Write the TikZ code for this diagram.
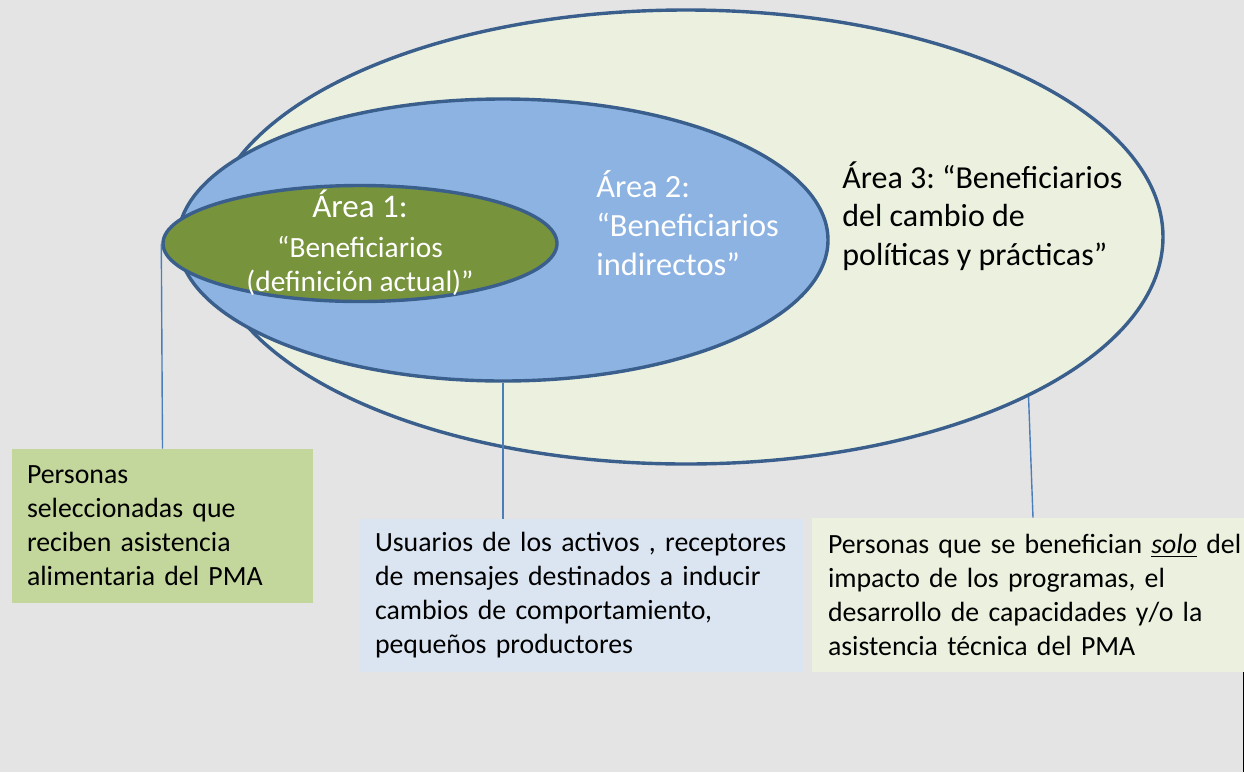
\documentclass[tikz,border=0pt]{standalone}
\usepackage{fontspec}
\setmainfont{Carlito}
\usetikzlibrary{shapes.geometric}

\definecolor{fondo}{HTML}{E4E4E4}
\definecolor{borde}{HTML}{3A5F8C}
\definecolor{crema}{HTML}{EBF1DE}
\definecolor{celeste}{HTML}{8DB3E2}
\definecolor{oliva}{HTML}{77933C}
\definecolor{verdeclaro}{HTML}{C3D69B}
\definecolor{azulclaro}{HTML}{DBE5F1}
\definecolor{linea}{HTML}{4A7EBB}

\tikzset{
    zona/.style={ellipse, draw=borde, line width=1.7pt, inner sep=0pt},
    rotulo/.style={inner sep=0pt},
    nota/.style={rectangle, inner xsep=7.5pt, inner ysep=0pt, align=left,
        font=\fontsize{13.9}{17}\selectfont},
    enlace/.style={draw=linea, line width=0.7pt}
}

\begin{document}
\frenchspacing
\begin{tikzpicture}[x=0.5pt, y=-0.5pt]
    \fill[fondo] (0, 0) rectangle (1244, 772);

    % las tres areas
    \node[zona, fill=crema, minimum width=477pt, minimum height=227pt] (area3) at (686, 237) {};
    \node[zona, fill=celeste, minimum width=325pt, minimum height=141pt] (area2) at (503, 240) {};
    \node[zona, fill=oliva, minimum width=197pt, minimum height=58pt] (area1) at (360, 243.5) {};

    \node[rotulo, anchor=base, align=center, text=white, font=\fontsize{14.7}{17}\selectfont] (txt1) at (360, 291)
        {{\fontsize{16.5}{17}\selectfont Área 1:}\\[3pt]“Beneficiarios\\(definición actual)”};
    \node[rotulo, anchor=base west, align=left, text=white, font=\fontsize{16.2}{19.5}\selectfont] (txt2) at (596, 275)
        {Área 2:\\“Beneficiarios\\indirectos”};
    \node[rotulo, anchor=base west, align=left, font=\fontsize{16}{19.25}\selectfont] (txt3) at (842, 265)
        {Área 3: “Beneficiarios\\del cambio de\\políticas y prácticas”};

    % cajas de descripcion
    \node[nota, fill=verdeclaro, text width=135.5pt, minimum height=77pt] (pers1) at (162.5, 526)
        {Personas\\seleccionadas que\\reciben asistencia\\alimentaria del PMA};
    \node[nota, fill=azulclaro, text width=206.5pt, minimum height=76.5pt] (usu2) at (581.5, 595.5)
        {\mbox{Usuarios de los activos , receptores}\\de mensajes destinados a inducir\\cambios de comportamiento,\\pequeños productores};
    \node[nota, fill=crema, inner xsep=8pt, text width=200pt, minimum height=77pt] (benef3) at (1028, 595)
        {\mbox{Personas que se benefician \underline{\textit{solo}} del}\\impacto de los programas, el\\desarrollo de capacidades y/o la\\asistencia técnica del PMA};

    \draw[enlace] (area1.west) -- (pers1.north);
    \draw[enlace] (area2.south) -- (area2.south |- usu2.north);
    \draw[enlace] (area3.-25.2) -- ([xshift=2.5pt]benef3.north);

    \draw[black, line width=0.5pt] (1243.5, 672) -- (1243.5, 772);
\end{tikzpicture}
\end{document}
